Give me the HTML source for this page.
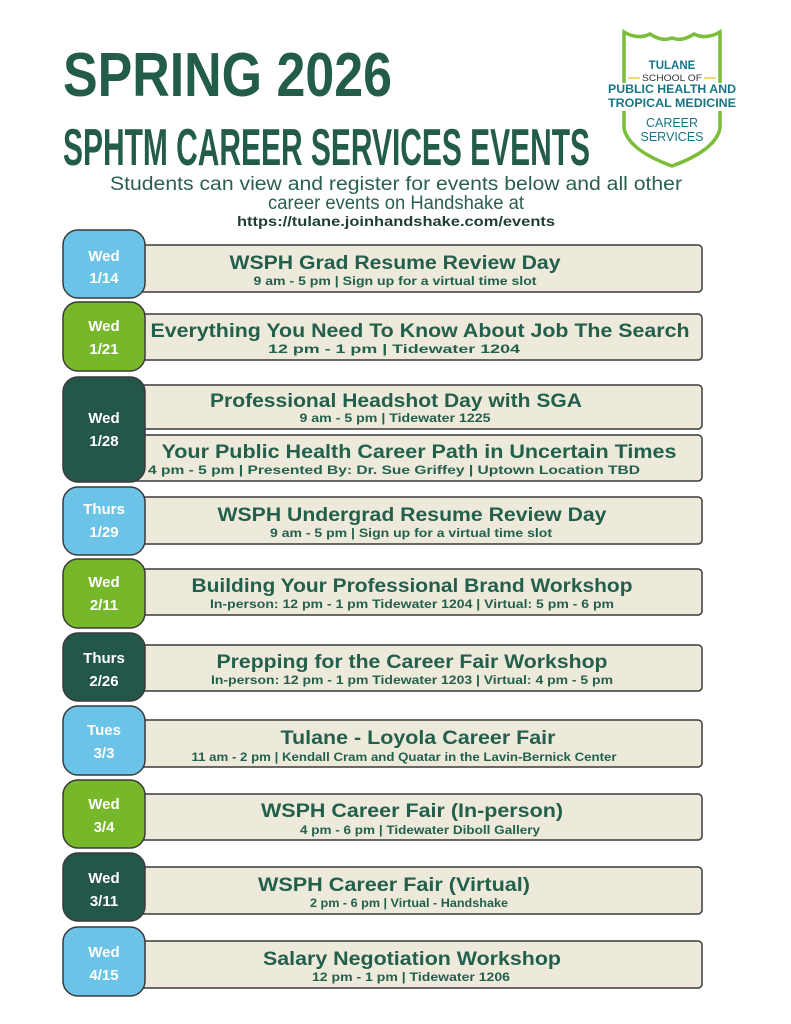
<!DOCTYPE html>
<html><head><meta charset="utf-8"><style>
html,body{margin:0;padding:0;background:#fff}
svg{display:block}
text{font-family:"Liberation Sans",sans-serif}
</style></head><body>
<svg width="791" height="1024" viewBox="0 0 791 1024" xmlns="http://www.w3.org/2000/svg">
<rect width="791" height="1024" fill="#fff"/>
<g fill="#235c4a" font-weight="bold">
<text x="63" y="96" font-size="62" textLength="329" lengthAdjust="spacingAndGlyphs">SPRING 2026</text>
<text x="63" y="165" font-size="52" textLength="527" lengthAdjust="spacingAndGlyphs">SPHTM CAREER SERVICES EVENTS</text>
</g>
<g fill="#2b5f4c" text-anchor="middle">
<text x="396" y="190" font-size="19" textLength="572" lengthAdjust="spacingAndGlyphs">Students can view and register for events below and all other</text>
<text x="396" y="209" font-size="19" textLength="256" lengthAdjust="spacingAndGlyphs">career events on Handshake at</text>
<text x="396" y="226" font-size="14" font-weight="bold" fill="#1f3d33" textLength="318" lengthAdjust="spacingAndGlyphs">https://tulane.joinhandshake.com/events</text>
</g>
<!-- logo -->
<path d="M624 32 L624 128 Q628 150 672 166 Q716 150 720 128 L720 32 Q706 40 694 34 Q682 42 672 38 Q662 42 650 34 Q638 40 624 32 Z" fill="#fff" stroke="#7cbd3a" stroke-width="3.5"/>
<rect x="604" y="83" width="138" height="28" fill="#fff"/>
<g text-anchor="middle" font-weight="bold" fill="#1a7487">
<text x="672" y="69" font-size="11.5">TULANE</text>
<text x="672" y="93" font-size="11.5" textLength="128" lengthAdjust="spacingAndGlyphs">PUBLIC HEALTH AND</text>
<text x="672" y="107" font-size="11.5" textLength="128" lengthAdjust="spacingAndGlyphs">TROPICAL MEDICINE</text>
</g>
<text x="672" y="81" font-size="9.5" text-anchor="middle" fill="#333" font-family="Liberation Serif,serif" textLength="60" lengthAdjust="spacingAndGlyphs">SCHOOL OF</text>
<line x1="628" y1="78" x2="640" y2="78" stroke="#f2c94c" stroke-width="1.5"/>
<line x1="704" y1="78" x2="716" y2="78" stroke="#f2c94c" stroke-width="1.5"/>
<g text-anchor="middle" fill="#1a7487" font-size="12.5" style="font-family:'Liberation Serif',serif">
<text x="672" y="127">CAREER</text>
<text x="672" y="141">SERVICES</text>
</g>

<g stroke="#3a3a3a" stroke-width="1.5">
<g fill="#eeeadb">
<rect x="120" y="245" width="582" height="47" rx="4"/>
<rect x="120" y="314" width="582" height="46" rx="4"/>
<rect x="120" y="385" width="582" height="44" rx="4"/>
<rect x="120" y="435" width="582" height="46" rx="4"/>
<rect x="120" y="497" width="582" height="47" rx="4"/>
<rect x="120" y="569" width="582" height="46" rx="4"/>
<rect x="120" y="645" width="582" height="46" rx="4"/>
<rect x="120" y="720" width="582" height="47" rx="4"/>
<rect x="120" y="794" width="582" height="46" rx="4"/>
<rect x="120" y="867" width="582" height="47" rx="4"/>
<rect x="120" y="941" width="582" height="47" rx="4"/>
</g>
<rect x="63" y="230" width="82" height="68" rx="15" fill="#6cc3e8"/>
<rect x="63" y="302" width="82" height="69" rx="15" fill="#76b82a"/>
<rect x="63" y="377" width="82" height="105" rx="15" fill="#23574a"/>
<rect x="63" y="487" width="82" height="68" rx="15" fill="#6cc3e8"/>
<rect x="63" y="559" width="82" height="69" rx="15" fill="#76b82a"/>
<rect x="63" y="633" width="82" height="68" rx="15" fill="#23574a"/>
<rect x="63" y="706" width="82" height="69" rx="15" fill="#6cc3e8"/>
<rect x="63" y="780" width="82" height="68" rx="15" fill="#76b82a"/>
<rect x="63" y="853" width="82" height="68" rx="15" fill="#23574a"/>
<rect x="63" y="927" width="82" height="69" rx="15" fill="#6cc3e8"/>
</g>

<g fill="#fff" font-weight="bold" font-size="15" text-anchor="middle">
<text x="104" y="261">Wed</text><text x="104" y="283">1/14</text>
<text x="104" y="331">Wed</text><text x="104" y="354">1/21</text>
<text x="104" y="423">Wed</text><text x="104" y="446">1/28</text>
<text x="104" y="514">Thurs</text><text x="104" y="537">1/29</text>
<text x="104" y="587">Wed</text><text x="104" y="610">2/11</text>
<text x="104" y="663">Thurs</text><text x="104" y="686">2/26</text>
<text x="104" y="735">Tues</text><text x="104" y="758">3/3</text>
<text x="104" y="809">Wed</text><text x="104" y="832">3/4</text>
<text x="104" y="883">Wed</text><text x="104" y="906">3/11</text>
<text x="104" y="957">Wed</text><text x="104" y="980">4/15</text>
</g>

<g fill="#23604c" font-weight="bold" text-anchor="middle" font-size="19">
<text x="395" y="269" textLength="331" lengthAdjust="spacingAndGlyphs">WSPH Grad Resume Review Day</text>
<text x="420" y="337" textLength="539" lengthAdjust="spacingAndGlyphs">Everything You Need To Know About Job The Search</text>
<text x="396" y="407" textLength="372" lengthAdjust="spacingAndGlyphs">Professional Headshot Day with SGA</text>
<text x="419" y="458" textLength="515" lengthAdjust="spacingAndGlyphs">Your Public Health Career Path in Uncertain Times</text>
<text x="412" y="521" textLength="389" lengthAdjust="spacingAndGlyphs">WSPH Undergrad Resume Review Day</text>
<text x="412" y="592" textLength="441" lengthAdjust="spacingAndGlyphs">Building Your Professional Brand Workshop</text>
<text x="412" y="668" textLength="391" lengthAdjust="spacingAndGlyphs">Prepping for the Career Fair Workshop</text>
<text x="418" y="744" textLength="275" lengthAdjust="spacingAndGlyphs">Tulane - Loyola Career Fair</text>
<text x="412" y="817" textLength="302" lengthAdjust="spacingAndGlyphs">WSPH Career Fair (In-person)</text>
<text x="394" y="891" textLength="272" lengthAdjust="spacingAndGlyphs">WSPH Career Fair (Virtual)</text>
<text x="412" y="965" textLength="298" lengthAdjust="spacingAndGlyphs">Salary Negotiation Workshop</text>
</g>
<g fill="#23604c" font-weight="bold" text-anchor="middle" font-size="12">
<text x="395" y="285" textLength="283" lengthAdjust="spacingAndGlyphs">9 am - 5 pm | Sign up for a virtual time slot</text>
<text x="394" y="353" textLength="252" lengthAdjust="spacingAndGlyphs">12 pm - 1 pm | Tidewater 1204</text>
<text x="395" y="422" textLength="191" lengthAdjust="spacingAndGlyphs">9 am - 5 pm | Tidewater 1225</text>
<text x="394" y="474" textLength="492" lengthAdjust="spacingAndGlyphs">4 pm - 5 pm | Presented By: Dr. Sue Griffey | Uptown Location TBD</text>
<text x="411" y="537" textLength="282" lengthAdjust="spacingAndGlyphs">9 am - 5 pm | Sign up for a virtual time slot</text>
<text x="412" y="608" textLength="404" lengthAdjust="spacingAndGlyphs">In-person: 12 pm - 1 pm Tidewater 1204 | Virtual: 5 pm - 6 pm</text>
<text x="412" y="684" textLength="402" lengthAdjust="spacingAndGlyphs">In-person: 12 pm - 1 pm Tidewater 1203 | Virtual: 4 pm - 5 pm</text>
<text x="404" y="761" textLength="425" lengthAdjust="spacingAndGlyphs">11 am - 2 pm | Kendall Cram and Quatar in the Lavin-Bernick Center</text>
<text x="420" y="834" textLength="240" lengthAdjust="spacingAndGlyphs">4 pm - 6 pm | Tidewater Diboll Gallery</text>
<text x="409" y="907" textLength="198" lengthAdjust="spacingAndGlyphs">2 pm - 6 pm | Virtual - Handshake</text>
<text x="411" y="981" textLength="198" lengthAdjust="spacingAndGlyphs">12 pm - 1 pm | Tidewater 1206</text>
</g>
</svg>
</body></html>
